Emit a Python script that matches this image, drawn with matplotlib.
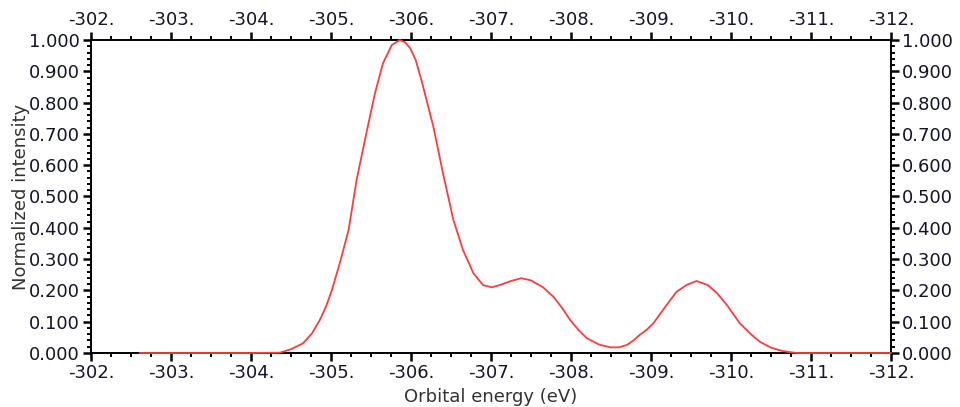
import matplotlib
matplotlib.use("Agg")
import matplotlib.pyplot as plt
from matplotlib.ticker import MultipleLocator, FuncFormatter

# Spectrum: orbital energy (eV) vs normalized intensity
energy = [-302.61, -303.0, -303.5, -304.0, -304.36, -304.5, -304.65, -304.76,
          -304.86, -304.94, -305.01, -305.11, -305.22, -305.32, -305.45, -305.55,
          -305.65, -305.76, -305.86, -305.93, -305.99, -306.06, -306.13, -306.28,
          -306.40, -306.53, -306.65, -306.78, -306.9, -307.01, -307.11, -307.25,
          -307.38, -307.5, -307.65, -307.78, -307.9, -307.99, -308.1, -308.2,
          -308.35, -308.49, -308.6, -308.70, -308.78, -308.86, -308.95, -309.03,
          -309.18, -309.32, -309.45, -309.57, -309.71, -309.83, -309.95, -310.11,
          -310.25, -310.36, -310.5, -310.65, -310.82, -311.0, -311.5, -312.0]
intensity = [0.0, 0.0, 0.0, 0.0, 0.001, 0.012, 0.031, 0.062,
             0.105, 0.15, 0.20, 0.287, 0.393, 0.553, 0.712, 0.83,
             0.926, 0.984, 1.0, 0.992, 0.974, 0.935, 0.872, 0.723,
             0.574, 0.425, 0.329, 0.255, 0.217, 0.21, 0.217, 0.23,
             0.239, 0.232, 0.21, 0.18, 0.14, 0.105, 0.072, 0.047,
             0.027, 0.018, 0.018, 0.026, 0.04, 0.058, 0.075, 0.095,
             0.148, 0.196, 0.218, 0.23, 0.217, 0.19, 0.153, 0.095,
             0.06, 0.036, 0.017, 0.006, 0.0, 0.0, 0.0, 0.0]

x_major = [-302, -303, -304, -305, -306, -307, -308, -309, -310, -311, -312]

fig = plt.figure(figsize=(9.6, 4.07), dpi=100)
ax = fig.add_axes([0.0948, 0.1327, 0.8333, 0.769])

ax.plot(energy, intensity, color="#ff3b3b", lw=1.3, zorder=5, clip_on=False,
        solid_joinstyle="round")

ax.set_xlim(-302, -312)
ax.set_ylim(0, 1)
ax.set_xticks(x_major)
ax.xaxis.set_minor_locator(MultipleLocator(0.25))
ax.yaxis.set_major_locator(MultipleLocator(0.1))
ax.yaxis.set_minor_locator(MultipleLocator(0.02))
ax.xaxis.set_major_formatter(FuncFormatter(lambda v, p: f"{v:.0f}."))
ax.yaxis.set_major_formatter(FuncFormatter(lambda v, p: f"{v:.3f}"))

ax.tick_params(which="both", direction="out", top=True, right=True,
               labeltop=True, labelright=True, labelsize=13,
               labelcolor="#14142a")
ax.tick_params(which="major", length=6, width=1.8, pad=2)
ax.tick_params(which="minor", length=3, width=1.4)
for s in ax.spines.values():
    s.set_linewidth(1.4)

ax.set_xlabel("Orbital energy (eV)", fontsize=13, color="#333333", labelpad=4)
ax.set_ylabel("Normalized intensity", fontsize=13, color="#333333", labelpad=-1)

fig.savefig("out.png", dpi=100)
